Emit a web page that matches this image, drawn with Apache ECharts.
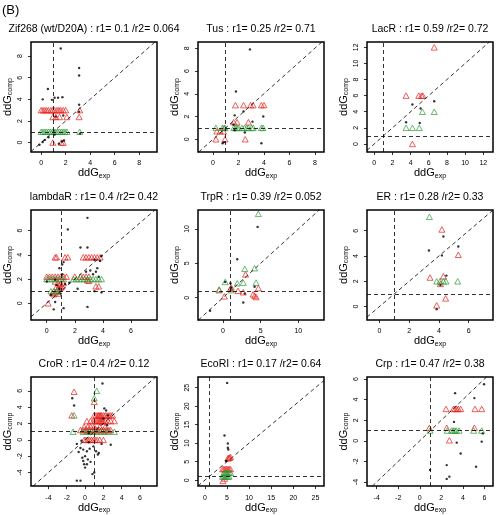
<!DOCTYPE html>
<html><head><meta charset="utf-8">
<script src="https://cdn.jsdelivr.net/npm/echarts@6/dist/echarts.min.js"></script>
<style>html,body{margin:0;padding:0;background:#fff}#c{width:497px;height:515px}</style>
</head><body><div id="c"></div>
<script>
const panelTitles = [
  'Zif268 (wt/D20A) : r1= 0.1 /r2= 0.064', 'Tus : r1= 0.25 /r2= 0.71', 'LacR : r1= 0.59 /r2= 0.72',
  'lambdaR : r1= 0.4 /r2= 0.42', 'TrpR : r1= 0.39 /r2= 0.052', 'ER : r1= 0.28 /r2= 0.33',
  'CroR : r1= 0.4 /r2= 0.12', 'EcoRI : r1= 0.17 /r2= 0.64', 'Crp : r1= 0.47 /r2= 0.38'
];
const xRanges = [[-0.83,9.46],[-1.18,8.72],[-0.8,13.07],[-1.12,7.85],[-3.3,13.4],[-0.83,7.63],[-5.9,7.85],[-1.55,26.95],[-4.9,6.8]];
const yRanges = [[-0.87,9.3],[-1.12,8.55],[-1.0,12.66],[-1.38,7.7],[-3.24,12.76],[-1.06,7.64],[-5.67,7.7],[-1.6,27.9],[-4.4,6.2]];
const panelTicks = [[0,2,4,6,8],[0,2,4,6,8],[0,2,4,6,8,10,12],[0,2,4,6],[0,5,10],[0,2,4,6],[-4,-2,0,2,4,6],[0,5,10,15,20,25],[-4,-2,0,2,4,6]];

const zifBlack = [[1.6,8.7],[3.1,6.9],[3.1,6.2],[0.55,4.95],[0.13,4.0],[0.88,3.95],[1.1,4.15],[1.38,4.15],[1.74,4.2],[3.1,3.5],[1.8,2.5],[3.1,2.85],[1.2,2.4],[1.1,0.74],[0.6,0.5],[0.13,0.06],[-0.14,-0.2],[0.3,0.25],[1.45,-0.1],[1.87,0.2],[1.7,0.1],[3.17,0.83]];
const zifRed = [[0.0,3],[0.15,3],[0.3,3],[0.45,3],[0.6,3],[0.8,3],[0.95,3],[1.1,3],[1.3,3],[1.45,3],[1.6,3],[1.8,3],[2.0,3],[3.15,3],[0.95,2.37],[1.2,2.37],[1.5,2.37],[2.1,2.37],[3.1,2.37],[0.95,0],[1.65,0],[1.8,0]];
const zifGreen = [[0.0,1],[0.15,1],[0.3,1],[0.45,1],[0.6,1],[0.75,1],[0.9,1],[1.05,1],[1.2,1],[1.35,1],[1.5,1],[1.65,1],[1.8,1],[1.95,1],[2.1,1],[3.15,1]];

const tusBlack = [[2.9,7.9],[1.8,4.2],[2.4,2.45],[1.7,2.1],[3.95,2.0],[3.1,1.55],[1.7,0.8],[2.5,0.6],[3.8,-0.35],[0.75,-0.35],[0.87,-0.25],[1.6,1.3]];
const tusRed = [[1.76,3],[2.4,3],[2.95,3],[3.15,3],[3.8,3],[4.0,3],[1.63,1.5],[1.89,1.5],[2.78,1.5],[0.3,0.7],[0.56,0.7],[0.82,0.7],[0.23,0],[0.94,0],[2.53,0]];
const tusGreen = [[0.23,1],[0.74,1],[0.87,1],[0.94,1],[1.63,1],[1.76,1],[1.89,1],[2.0,1],[2.27,1],[2.47,1],[2.65,1],[2.78,1],[3.03,1],[3.16,1],[3.8,1],[3.93,1]];

const lacBlack = [[4.2,4.9],[6.6,5.3],[3.5,2.7],[5.0,2.6],[5.1,4.4]];
const lacRed = [[6.6,12],[3.5,6],[4.9,6],[5.2,6],[5.35,6],[4.2,0]];
const lacGreen = [[5.3,4],[6.6,4],[3.5,2],[4.2,2],[4.95,2]];

const lamBlack = [[2.9,7.05],[1.5,6.1],[2.4,4.6],[2.9,4.6],[3.4,3.6],[3.8,3.5],[3.9,3.9],[1.1,3.2],[1.2,3.4],[0.9,2.9],[0.6,1.95],[1.3,1.6],[0.7,1.5],[0.9,1.2],[1.6,1.7],[2.2,1.2],[2.8,2.6],[3.1,2.7],[3.3,2.4],[3.5,2.6],[3.6,2.9],[3.4,1.0],[3.9,0.9],[2.9,-0.3],[1.2,-0.4],[0.5,-0.5],[0.6,0.1],[0.0,1.8],[0.3,0.7],[1.0,0.8],[1.1,2.4],[3.7,2.2]];
const lamRed = [[0.6,3.8],[0.7,3.8],[1.3,3.8],[1.5,3.8],[2.6,3.8],[2.8,3.8],[3.0,3.8],[3.2,3.8],[3.4,3.8],[3.6,3.8],[3.8,3.8],
  [0.0,2.2],[0.2,2.2],[0.4,2.2],[0.6,2.2],[0.8,2.2],[1.0,2.2],[1.2,2.2],[1.4,2.2],[2.0,2.2],[2.4,2.2],[2.6,2.2],[2.8,2.2],[3.0,2.2],
  [0.6,1.8],[0.8,1.7],[1.0,1.6],[1.2,1.7],[0.9,1.5],[1.1,1.4],[0.7,1.35],[0.8,1.2],[1.0,1.3],
  [0.4,0.85],[0.5,0.75],[0.6,0.9],[0.8,0.8],[3.5,1.4],[3.7,1.4],[2.9,1.9],[3.0,1.85],[0.1,0.0]];
const lamGreen = [[0.0,2],[0.2,2],[0.4,2],[0.6,2],[0.8,2],[1.0,2],[1.2,2],[1.9,2],[2.1,2],[2.3,2],[2.5,2],[2.7,2],[2.9,2],[3.1,2],[3.3,2],[3.5,2],[3.7,2],[3.9,2],[0.3,1],[0.5,1],[0.7,1],[0.8,1]];

const trpBlack = [[4.6,10.3],[1.9,5.6],[0.3,2.3],[1.0,2.1],[1.1,1.5],[2.9,0.6],[4.2,1.6],[2.7,-0.7],[-1.7,-1.9]];
const trpRed = [[3.0,3.4],[1.1,1.5],[1.0,1.3],[-0.5,1.1],[0.2,0.2],[2.0,1.0],[2.7,0.8],[4.0,0.5],[4.2,0.3],[4.4,0.1],[4.7,1.4]];
const trpGreen = [[4.7,12.2],[2.9,4.2],[4.2,4.3],[0.3,2.3],[1.9,2.1],[2.7,2.2],[4.4,2.2],[1.1,1.1],[-0.5,1.2]];

const erBlack = [[4.3,5.55],[3.33,4.44],[5.3,4.75],[4.2,4.05],[4.5,2.45],[4.1,1.7],[3.85,-0.2]];
const erRed = [[4.2,6.1],[5.3,4.1],[3.4,2.3],[4.3,2.4],[4.1,1.8],[4.45,0.65],[3.85,0.1]];
const erGreen = [[3.36,7.1],[3.85,2.0],[4.07,2.0],[4.3,2.0],[4.47,2.0],[5.26,2.0]];

const croBlack = [[1.9,6.9],[-1.4,5.1],[-1.2,4.2],[2.1,3.85],[2.3,3.6],[2.5,3.0],[2.0,2.6],[2.4,1.8],[0.4,0.8],
  [-0.9,-0.5],[-0.5,-1.0],[-0.7,-1.5],[-0.2,-1.2],[0.2,-1.4],[0.5,-1.1],[1.2,-1.4],[1.5,-1.6],[1.4,-1.8],[0.0,-2.0],[-0.3,-2.2],[0.3,-2.4],[0.6,-2.7],[-0.1,-3.0],[0.0,-3.4],[0.8,-4.2],[1.0,-4.0],[-0.9,-5.0],[-0.5,-5.0],[1.8,-0.5],[2.8,-0.6],[0.4,-0.3],[-0.4,-0.1],[0.9,-0.8],[-0.2,-2.6],[0.2,-3.0]];
const croRed = [[-1.2,5.9],[1.0,4.65],[-1.45,3.0],
  [1.0,3],[1.2,3],[1.4,3],[1.5,3],[1.6,3],[1.7,3],[1.8,3],[2.0,3],[2.2,3],[2.4,3],[2.6,3],[2.8,3],[3.0,3],
  [0.2,2.3],[0.6,2.3],[0.9,2.3],[1.1,2.3],[1.3,2.3],[1.5,2.3],[1.6,2.3],[1.7,2.3],[1.8,2.3],[1.9,2.3],[2.0,2.3],[2.2,2.3],[2.5,2.3],[2.8,2.3],[3.2,2.3],
  [-0.1,1.6],[0.3,1.6],[0.6,1.6],[1.0,1.6],[1.6,1.6],[2.2,1.6],
  [-0.5,1.2],[-0.2,1.2],[0.0,1.2],[0.2,1.2],[0.4,1.2],[0.6,1.2],[0.8,1.2],[1.0,1.2],[1.2,1.2],[1.4,1.2],[1.6,1.2],[1.8,1.2],[2.0,1.2],[2.2,1.2],[2.4,1.2],[2.6,1.2],[2.8,1.2],
  [-0.1,0],[0.1,0],[0.3,0],[0.5,0],[0.7,0],[0.9,0],[1.1,0],[1.3,0],[1.6,0],[2.0,0]];
const croGreen = [[1.27,6.0],[1.0,5.1],[-1.2,3.0],[-1.3,1],[-0.2,1],[0.2,1],[0.5,1],[0.9,1],[1.3,1],[1.7,1],[2.1,1],[2.5,1],[3.2,1]];

const ecoBlack = [[5.05,26.3],[4.45,12.1],[5.2,9.9],[5.2,8.75],[5.3,8.3],[4.8,5.2]];
const ecoRed = [[5.2,5.9],[5.6,6.1],[5.8,6.3],[5.4,6.0],[4.0,3],[4.3,3],[4.6,3],[4.9,3],[5.2,3],[5.5,3],[5.8,3],[4.1,-0.2],[4.45,0.45]];
const ecoGreen = [[4.3,2],[4.6,2],[4.9,2],[5.2,2],[5.5,2],[5.8,2],[4.0,1],[4.3,1],[4.6,1],[4.9,1],[5.2,1],[5.5,1]];

const crpBlack = [[5.97,5.5],[3.28,4.63],[5.07,4.15],[3.18,1.84],[5.85,0.72],[3.43,-0.18],[5.75,-0.08],[3.8,-1.23],[2.5,-2.36],[5.23,-2.52],[0.95,-2.84],[2.75,-3.48],[2.5,-3.7]];
const crpRed = [[2.44,3.1],[3.12,3.1],[3.28,3.1],[3.43,3.1],[3.58,3.1],[3.8,3.1],[5.13,3.1],[5.75,3.1],[0.89,1.27],[2.5,1.27],[5.07,1.27],[2.75,0.05]];
const crpGreen = [[0.95,1],[2.55,1],[2.95,1],[3.1,1],[3.26,1],[3.4,1],[3.65,1],[5.0,1],[5.75,1]];

const blackSets = [zifBlack, tusBlack, lacBlack, lamBlack, trpBlack, erBlack, croBlack, ecoBlack, crpBlack];
const redSets = [zifRed, tusRed, lacRed, lamRed, trpRed, erRed, croRed, ecoRed, crpRed];
const greenSets = [zifGreen, tusGreen, lacGreen, lamGreen, trpGreen, erGreen, croGreen, ecoGreen, crpGreen];

const FONT = '"Liberation Sans", Arial, Helvetica, sans-serif';
const colLeft = [31, 198, 367];
const rowTop = [42, 210, 377];
const boxW = 126, boxH = 110;

const grids = [], xAxes = [], yAxes = [], series = [], graphics = [];
graphics.push({type:'text', left: 2, top: 4, style:{text:'(B)', font:'13px ' + FONT, fill:'#000'}});
const nameRich = {
  a: {fontSize: 11, fontFamily: FONT, color: '#000'},
  b: {fontSize: 7, fontFamily: FONT, color: '#000', padding: [6,0,0,0]}
};
for (let i = 0; i < 9; i++) {
  const r = Math.floor(i / 3), c = i % 3;
  const [xlo, xhi] = xRanges[i];
  const [ylo, yhi] = yRanges[i];
  const dlo = Math.max(xlo, ylo), dhi = Math.min(xhi, yhi);
  grids.push({left: colLeft[c], top: rowTop[r], width: boxW, height: boxH, show: true, borderColor: '#000', borderWidth: 1.5, backgroundColor: 'transparent', containLabel: false});
  graphics.push({type:'text', x: colLeft[c] + boxW/2, y: rowTop[r] - 13,
    style:{text: panelTitles[i], font: '10.5px ' + FONT, fill:'#000', textAlign:'center', textVerticalAlign:'middle'}});
  const axisCommon = {
    gridIndex: i, type: 'value',
    axisLine: {show: false, onZero: false}, splitLine: {show: false},
    axisTick: {show: true, inside: false, length: 3, lineStyle: {color:'#000', width: 0.8}, customValues: panelTicks[i]},
    nameLocation: 'middle', nameTextStyle: {rich: nameRich}
  };
  xAxes.push(Object.assign({}, axisCommon, {
    min: xlo, max: xhi,
    position: 'bottom', name: '{a|ddG}{b|exp}', nameGap: 14,
    axisLabel: {fontSize: 7, color: '#000', fontFamily: FONT, margin: 8, customValues: panelTicks[i]}
  }));
  yAxes.push(Object.assign({}, axisCommon, {
    min: ylo, max: yhi,
    position: 'left', name: '{a|ddG}{b|comp}', nameGap: 17, nameRotate: 90,
    axisLabel: {fontSize: 7, color: '#000', fontFamily: FONT, margin: 7, rotate: 90, customValues: panelTicks[i]}
  }));
  const triStyle = col => ({color: 'rgba(0,0,0,0)', borderColor: col, borderWidth: 0.9});
  series.push({type: 'scatter', xAxisIndex: i, yAxisIndex: i, data: redSets[i], symbol: 'triangle', symbolSize: [6,5.5], itemStyle: triStyle('#e8201c'), silent: true});
  series.push({type: 'scatter', xAxisIndex: i, yAxisIndex: i, data: greenSets[i], symbol: 'triangle', symbolSize: [6,5.5], itemStyle: triStyle('#2f9a3a'), silent: true});
  series.push({type: 'scatter', xAxisIndex: i, yAxisIndex: i, data: blackSets[i], symbol: 'circle', symbolSize: 2.4, itemStyle: {color: '#000'}, silent: true,
    markLine: {silent: true, symbol: 'none', animation: false, label: {show: false},
      lineStyle: {color: '#000', width: 0.8, type: [4,3]},
      data: [{xAxis: 1}, {yAxis: 1}, [{coord: [dlo, dlo]}, {coord: [dhi, dhi]}]]}
  });
}
const chart = echarts.init(document.getElementById('c'), null, {renderer: 'canvas'});
chart.setOption({animation: false, backgroundColor: '#fff', grid: grids, xAxis: xAxes, yAxis: yAxes, series: series, graphic: graphics});
</script></body></html>
